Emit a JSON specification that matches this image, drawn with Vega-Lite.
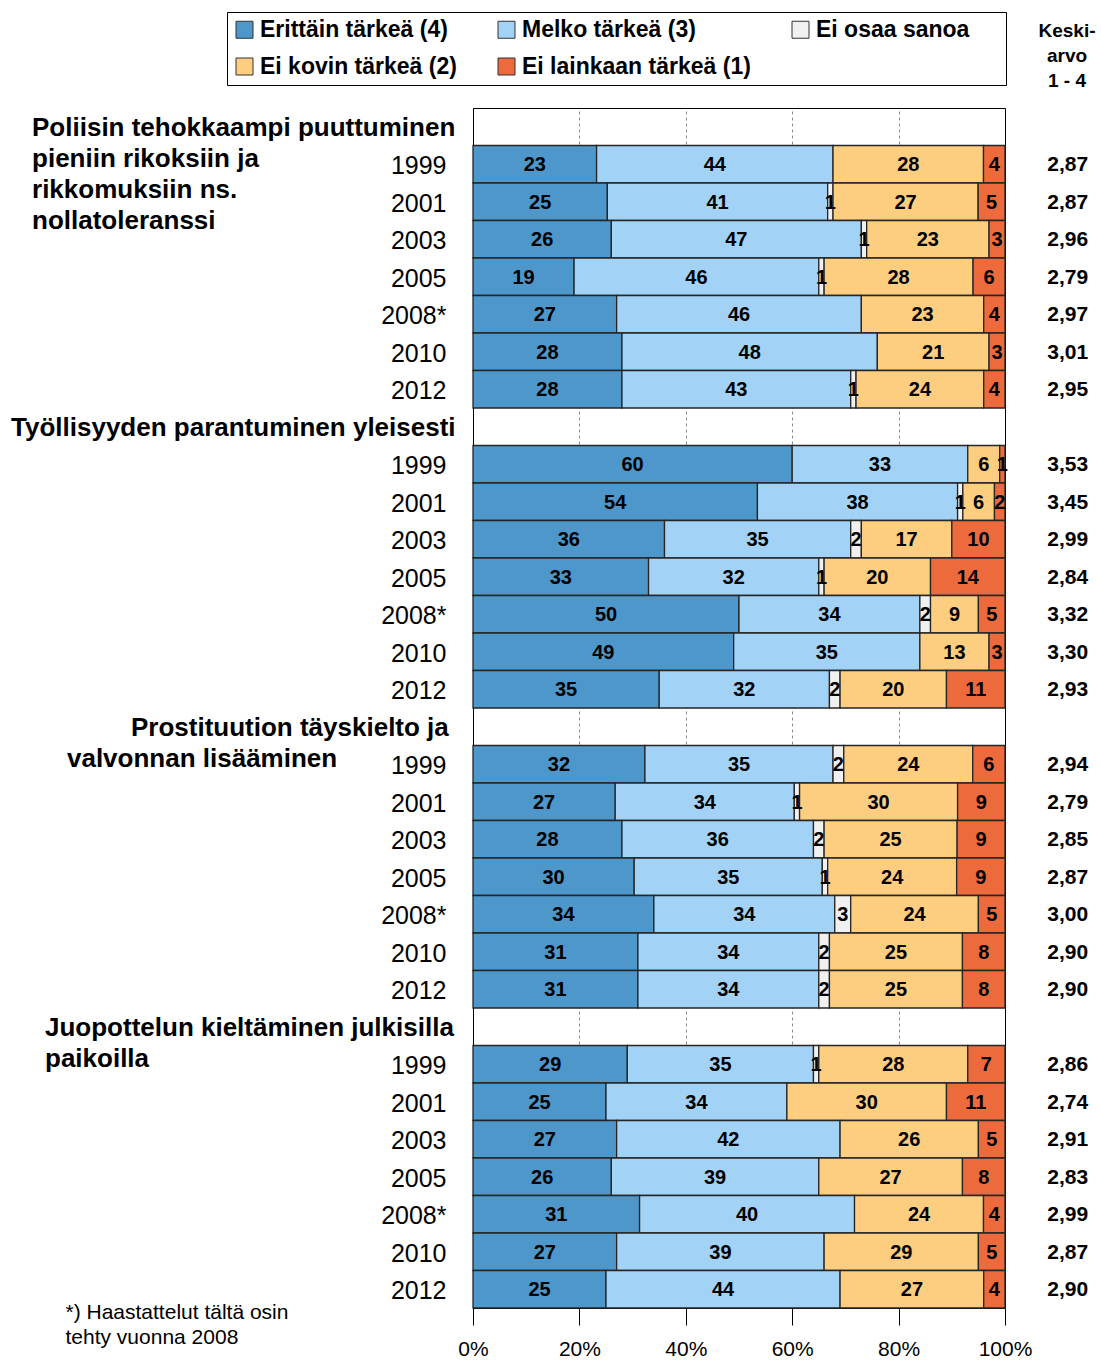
{
  "$schema": "https://vega.github.io/schema/vega-lite/v6.json",
  "width": 532,
  "height": 1200,
  "autosize": {"type": "none"},
  "padding": {"left": 473, "top": 108, "right": 96, "bottom": 52},
  "background": "white",
  "config": {"font": "Liberation Sans", "view": {"stroke": "#000", "strokeWidth": 1}, "title": {"fontSize": 19, "fontWeight": "bold", "color": "#000"}},
  "title": {"text": ["Keski-", "arvo", "1 - 4"], "orient": "none", "anchor": "start", "align": "center", "baseline": "top", "dx": 594, "dy": -86, "fontSize": 19, "fontWeight": "bold", "lineHeight": 25, "frame": "group", "color": "#000"},
  "datasets": {
    "rows": [
      {"row": "1|1999", "e": 23, "m": 44, "o": 0, "k": 28, "l": 4, "mean": "2,87"},
      {"row": "1|2001", "e": 25, "m": 41, "o": 1, "k": 27, "l": 5, "mean": "2,87"},
      {"row": "1|2003", "e": 26, "m": 47, "o": 1, "k": 23, "l": 3, "mean": "2,96"},
      {"row": "1|2005", "e": 19, "m": 46, "o": 1, "k": 28, "l": 6, "mean": "2,79"},
      {"row": "1|2008*", "e": 27, "m": 46, "o": 0, "k": 23, "l": 4, "mean": "2,97"},
      {"row": "1|2010", "e": 28, "m": 48, "o": 0, "k": 21, "l": 3, "mean": "3,01"},
      {"row": "1|2012", "e": 28, "m": 43, "o": 1, "k": 24, "l": 4, "mean": "2,95"},
      {"row": "2|1999", "e": 60, "m": 33, "o": 0, "k": 6, "l": 1, "mean": "3,53"},
      {"row": "2|2001", "e": 54, "m": 38, "o": 1, "k": 6, "l": 2, "mean": "3,45"},
      {"row": "2|2003", "e": 36, "m": 35, "o": 2, "k": 17, "l": 10, "mean": "2,99"},
      {"row": "2|2005", "e": 33, "m": 32, "o": 1, "k": 20, "l": 14, "mean": "2,84"},
      {"row": "2|2008*", "e": 50, "m": 34, "o": 2, "k": 9, "l": 5, "mean": "3,32"},
      {"row": "2|2010", "e": 49, "m": 35, "o": 0, "k": 13, "l": 3, "mean": "3,30"},
      {"row": "2|2012", "e": 35, "m": 32, "o": 2, "k": 20, "l": 11, "mean": "2,93"},
      {"row": "3|1999", "e": 32, "m": 35, "o": 2, "k": 24, "l": 6, "mean": "2,94"},
      {"row": "3|2001", "e": 27, "m": 34, "o": 1, "k": 30, "l": 9, "mean": "2,79"},
      {"row": "3|2003", "e": 28, "m": 36, "o": 2, "k": 25, "l": 9, "mean": "2,85"},
      {"row": "3|2005", "e": 30, "m": 35, "o": 1, "k": 24, "l": 9, "mean": "2,87"},
      {"row": "3|2008*", "e": 34, "m": 34, "o": 3, "k": 24, "l": 5, "mean": "3,00"},
      {"row": "3|2010", "e": 31, "m": 34, "o": 2, "k": 25, "l": 8, "mean": "2,90"},
      {"row": "3|2012", "e": 31, "m": 34, "o": 2, "k": 25, "l": 8, "mean": "2,90"},
      {"row": "4|1999", "e": 29, "m": 35, "o": 1, "k": 28, "l": 7, "mean": "2,86"},
      {"row": "4|2001", "e": 25, "m": 34, "o": 0, "k": 30, "l": 11, "mean": "2,74"},
      {"row": "4|2003", "e": 27, "m": 42, "o": 0, "k": 26, "l": 5, "mean": "2,91"},
      {"row": "4|2005", "e": 26, "m": 39, "o": 0, "k": 27, "l": 8, "mean": "2,83"},
      {"row": "4|2008*", "e": 31, "m": 40, "o": 0, "k": 24, "l": 4, "mean": "2,99"},
      {"row": "4|2010", "e": 27, "m": 39, "o": 0, "k": 29, "l": 5, "mean": "2,87"},
      {"row": "4|2012", "e": 25, "m": 44, "o": 0, "k": 27, "l": 4, "mean": "2,90"}
    ],
    "cats": [
      {"key": "e", "name": "Erittäin tärkeä (4)", "order": 1},
      {"key": "m", "name": "Melko tärkeä (3)", "order": 2},
      {"key": "o", "name": "Ei osaa sanoa", "order": 3},
      {"key": "k", "name": "Ei kovin tärkeä (2)", "order": 4},
      {"key": "l", "name": "Ei lainkaan tärkeä (1)", "order": 5}
    ],
    "titles": [
      {"part": "a", "row": "1|h", "t": ["Poliisin tehokkaampi puuttuminen", "pieniin rikoksiin ja", "rikkomuksiin ns.", "nollatoleranssi"]},
      {"part": "b", "row": "2|h", "t": ["Työllisyyden parantuminen yleisesti"]},
      {"part": "c", "row": "3|h", "t": ["Prostituution täyskielto ja"]},
      {"part": "d", "row": "3|h", "t": ["valvonnan lisääminen"]},
      {"part": "e", "row": "4|h", "t": ["Juopottelun kieltäminen julkisilla", "paikoilla"]}
    ]
  },
  "layer": [
    {
      "data": {"name": "rows"},
      "transform": [
        {"fold": ["e", "m", "o", "k", "l"], "as": ["key", "v"]},
        {"lookup": "key", "from": {"data": {"name": "cats"}, "key": "key", "fields": ["name", "order"]}},
        {"filter": "datum.v > 0"},
        {"stack": "v", "groupby": ["row"], "sort": [{"field": "order", "order": "ascending"}], "offset": "normalize", "as": ["v0", "v1"]}
      ],
      "mark": {"type": "bar", "stroke": "#262626", "strokeWidth": 1.3},
      "encoding": {
        "y": {"field": "row", "type": "nominal", "sort": null,
          "scale": {"domain": ["1|h","1|1999","1|2001","1|2003","1|2005","1|2008*","1|2010","1|2012","2|h","2|1999","2|2001","2|2003","2|2005","2|2008*","2|2010","2|2012","3|h","3|1999","3|2001","3|2003","3|2005","3|2008*","3|2010","3|2012","4|h","4|1999","4|2001","4|2003","4|2005","4|2008*","4|2010","4|2012"], "paddingInner": 0, "paddingOuter": 0},
          "axis": {"title": null, "labelExpr": "split(datum.value,'|')[1] == 'h' ? '' : split(datum.value,'|')[1]", "labelFontSize": 25, "labelColor": "#000", "labelPadding": 27, "labelOffset": 2, "ticks": false, "tickSize": 0, "domainColor": "#000", "domainWidth": 1, "labelLimit": 200, "labelOverlap": false, "grid": false}
        },
        "x": {"field": "v0", "type": "quantitative", "scale": {"domain": [0, 1], "nice": false},
          "axis": {"title": ["*) Haastattelut tältä osin", "tehty vuonna 2008"], "titleX": -408, "titleY": -7, "titleAlign": "left", "titleAnchor": "start", "titleBaseline": "top", "titleFontSize": 21, "titleFontWeight": "normal", "titleLineHeight": 25, "titleColor": "#000", "values": [0, 0.2, 0.4, 0.6, 0.8, 1], "format": "%", "labelFontSize": 21, "labelColor": "#000", "labelPadding": 13, "labelFlush": false, "tickSize": 17, "tickColor": "#000", "domainColor": "#000", "grid": true, "gridColor": "#8c8c8c", "gridDash": [3, 3], "gridOpacity": {"condition": {"test": "datum.value === 0 || datum.value === 1", "value": 0}, "value": 1}}
        },
        "x2": {"field": "v1"},
        "color": {"field": "name", "type": "nominal",
          "scale": {"domain": ["Erittäin tärkeä (4)", "Melko tärkeä (3)", "Ei osaa sanoa", "Ei kovin tärkeä (2)", "Ei lainkaan tärkeä (1)"], "range": ["#4d97cb", "#a2d3f6", "#f0f0f0", "#fdcd80", "#ec6a3c"]},
          "legend": {"orient": "none", "legendX": -246, "legendY": -96, "direction": "horizontal", "columns": 3, "gridAlign": "each", "columnPadding": 38, "rowPadding": 13, "padding": 6, "strokeColor": "#000", "fillColor": "#fff", "title": " ", "titleOrient": "right", "titlePadding": 31, "titleFontSize": 10, "symbolType": "square", "symbolSize": 289, "symbolStrokeColor": "#333", "symbolStrokeWidth": 1, "symbolOpacity": 1, "labelFontSize": 23, "labelFontWeight": "bold", "labelColor": "#000", "labelOffset": 4, "labelLimit": 400}
        }
      }
    },
    {
      "data": {"name": "rows"},
      "transform": [
        {"fold": ["e", "m", "o", "k", "l"], "as": ["key", "v"]},
        {"lookup": "key", "from": {"data": {"name": "cats"}, "key": "key", "fields": ["name", "order"]}},
        {"filter": "datum.v > 0"},
        {"stack": "v", "groupby": ["row"], "sort": [{"field": "order", "order": "ascending"}], "offset": "normalize", "as": ["v0", "v1"]},
        {"calculate": "(datum.v0 + datum.v1) / 2", "as": "mid"}
      ],
      "mark": {"type": "text", "fontSize": 20, "fontWeight": "bold", "color": "#000", "align": "center", "baseline": "middle", "dy": 1},
      "encoding": {
        "y": {"field": "row", "type": "nominal", "sort": null},
        "x": {"field": "mid", "type": "quantitative"},
        "text": {"field": "v", "type": "quantitative"}
      }
    },
    {
      "data": {"name": "rows"},
      "mark": {"type": "text", "fontSize": 21, "fontWeight": "bold", "color": "#000", "align": "center", "baseline": "middle", "dy": 1},
      "encoding": {
        "y": {"field": "row", "type": "nominal", "sort": null},
        "x": {"datum": 1.118, "type": "quantitative"},
        "text": {"field": "mean", "type": "nominal"}
      }
    },
    {
      "data": {"name": "titles"},
      "transform": [{"filter": "datum.part == 'a'"}],
      "mark": {"type": "text", "fontSize": 26, "fontWeight": "bold", "color": "#000", "align": "left", "baseline": "top", "dy": -12, "lineHeight": 31},
      "encoding": {"y": {"field": "row", "type": "nominal", "sort": null}, "x": {"datum": -0.8289, "type": "quantitative"}, "text": {"field": "t"}}
    },
    {
      "data": {"name": "titles"},
      "transform": [{"filter": "datum.part == 'b'"}],
      "mark": {"type": "text", "fontSize": 26, "fontWeight": "bold", "color": "#000", "align": "left", "baseline": "top", "dy": -12, "lineHeight": 31},
      "encoding": {"y": {"field": "row", "type": "nominal", "sort": null}, "x": {"datum": -0.8684, "type": "quantitative"}, "text": {"field": "t"}}
    },
    {
      "data": {"name": "titles"},
      "transform": [{"filter": "datum.part == 'c'"}],
      "mark": {"type": "text", "fontSize": 26, "fontWeight": "bold", "color": "#000", "align": "left", "baseline": "top", "dy": -12, "lineHeight": 31},
      "encoding": {"y": {"field": "row", "type": "nominal", "sort": null}, "x": {"datum": -0.6429, "type": "quantitative"}, "text": {"field": "t"}}
    },
    {
      "data": {"name": "titles"},
      "transform": [{"filter": "datum.part == 'd'"}],
      "mark": {"type": "text", "fontSize": 26, "fontWeight": "bold", "color": "#000", "align": "left", "baseline": "top", "dy": 19, "lineHeight": 31},
      "encoding": {"y": {"field": "row", "type": "nominal", "sort": null}, "x": {"datum": -0.7632, "type": "quantitative"}, "text": {"field": "t"}}
    },
    {
      "data": {"name": "titles"},
      "transform": [{"filter": "datum.part == 'e'"}],
      "mark": {"type": "text", "fontSize": 26, "fontWeight": "bold", "color": "#000", "align": "left", "baseline": "top", "dy": -12, "lineHeight": 31},
      "encoding": {"y": {"field": "row", "type": "nominal", "sort": null}, "x": {"datum": -0.8045, "type": "quantitative"}, "text": {"field": "t"}}
    }
  ]
}
